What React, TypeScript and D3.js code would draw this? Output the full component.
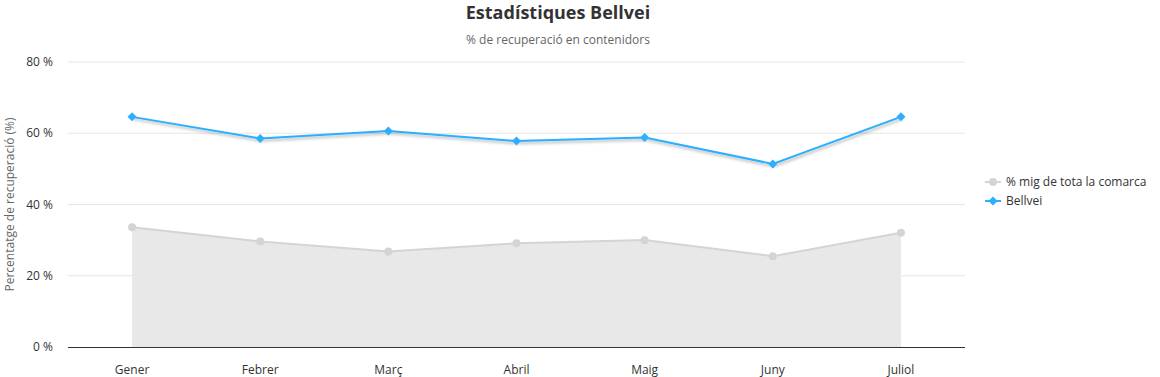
import React from "react";
import * as d3 from "d3";

const categories = ["Gener", "Febrer", "Març", "Abril", "Maig", "Juny", "Juliol"];
const comarcaValues = [33.6, 29.6, 26.8, 29.1, 30.0, 25.5, 32.1];
const bellveiValues = [64.6, 58.5, 60.6, 57.8, 58.8, 51.4, 64.6];
const yTicks = [0, 20, 40, 60, 80];
const seriesNames = ["% mig de tota la comarca", "Bellvei"];

const W = 1160;
const H = 377;
const FONT = "'Segoe UI', 'Open Sans', 'Noto Sans', sans-serif";

export default function App() {
  const x = d3.scaleBand<string>().domain(categories).range([68, 965]);
  const y = d3.scaleLinear().domain([0, 80]).range([347, 62]);
  const cx = (c: string) => (x(c) as number) + x.bandwidth() / 2;

  const line = d3
    .line<number>()
    .x((_, i) => cx(categories[i]))
    .y((d) => y(d));
  const area = d3
    .area<number>()
    .x((_, i) => cx(categories[i]))
    .y0(y(0))
    .y1((d) => y(d));

  const grey = "#d4d4d4";
  const blue = "#2caffe";

  return (
    <svg width={W} height={H} style={{ position: "absolute", left: 0, top: 0, fontFamily: FONT }}>
      <defs>
        <filter id="shadow" x="-10%" y="-50%" width="120%" height="200%">
          <feDropShadow dx="1" dy="2" stdDeviation="1.5" floodColor="#000" floodOpacity="0.3" />
        </filter>
      </defs>
      <rect width={W} height={H} fill="#fff" />
      <text x={558} y={19} textAnchor="middle" fontSize={18} fontWeight="bold" fill="#333">
        Estadístiques Bellvei
      </text>
      <text x={558} y={44} textAnchor="middle" fontSize={12} fill="#666">
        % de recuperació en contenidors
      </text>

      {yTicks.map((t) => (
        <g key={t}>
          {t !== 0 && (
            <line x1={68} x2={965} y1={y(t)} y2={y(t)} stroke="#e6e6e6" strokeWidth={1} />
          )}
          <text x={53} y={y(t) + 4} textAnchor="end" fontSize={12} fill="#333">
            {t} %
          </text>
        </g>
      ))}

      <text
        transform={`translate(14, ${y(40)}) rotate(-90)`}
        textAnchor="middle"
        fontSize={12}
        fill="#666"
      >
        Percentatge de recuperació (%)
      </text>

      <path d={area(comarcaValues) || ""} fill="#e8e8e8" />
      <path d={line(comarcaValues) || ""} fill="none" stroke={grey} strokeWidth={2} />
      {comarcaValues.map((v, i) => (
        <circle key={i} cx={cx(categories[i])} cy={y(v)} r={4} fill={grey} />
      ))}

      <line x1={68} x2={965} y1={347.5} y2={347.5} stroke="#333" strokeWidth={1} />

      <path d={line(bellveiValues) || ""} fill="none" stroke={blue} strokeWidth={2} filter="url(#shadow)" />
      {bellveiValues.map((v, i) => {
        const px = cx(categories[i]);
        const py = y(v);
        return (
          <path
            key={i}
            d={`M${px},${py - 4.5}L${px + 4.5},${py}L${px},${py + 4.5}L${px - 4.5},${py}Z`}
            fill={blue}
          />
        );
      })}

      {categories.map((c) => (
        <text key={c} x={cx(c)} y={374} textAnchor="middle" fontSize={12} fill="#333">
          {c}
        </text>
      ))}

      <g>
        <line x1={985} x2={1001} y1={182} y2={182} stroke={grey} strokeWidth={2} />
        <circle cx={993} cy={182} r={4} fill={grey} />
        <text x={1006} y={186} fontSize={12} fill="#333">
          {seriesNames[0]}
        </text>
        <line x1={985} x2={1001} y1={201} y2={201} stroke={blue} strokeWidth={2} />
        <path d={`M993,196.5L997.5,201L993,205.5L988.5,201Z`} fill={blue} />
        <text x={1006} y={205} fontSize={12} fill="#333">
          {seriesNames[1]}
        </text>
      </g>
    </svg>
  );
}
